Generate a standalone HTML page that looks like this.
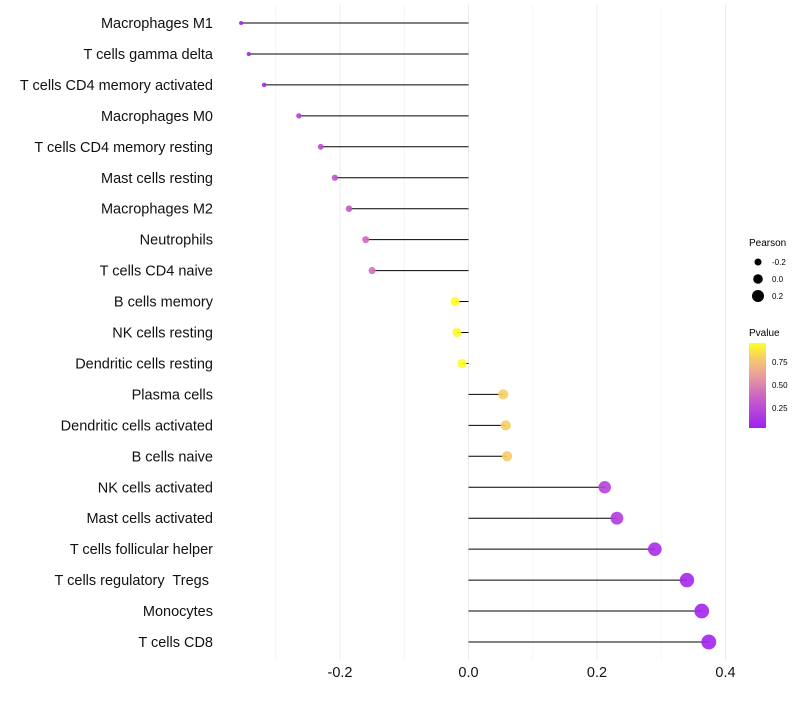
<!DOCTYPE html>
<html><head><meta charset="utf-8"><style>
body{margin:0;background:#fff;font-family:"Liberation Sans",sans-serif}
svg text{font-family:"Liberation Sans",sans-serif;white-space:pre}
</style></head><body>
<svg id="chart" width="800" height="700" xmlns="http://www.w3.org/2000/svg">
<defs><linearGradient id="pg" x1="0" y1="1" x2="0" y2="0">
<stop offset="0" stop-color="#a020f0"/><stop offset="0.35" stop-color="#c860c8"/><stop offset="0.6" stop-color="#e89aa0"/><stop offset="0.8" stop-color="#f6c670"/><stop offset="1" stop-color="#ffff20"/></linearGradient></defs>
<g id="grid"></g>
<g id="marks"></g>
<g id="labels"></g>
<g id="xt"></g>
<g>
<text x="749" y="246" font-size="10" fill="#000">Pearson</text>
<circle cx="758" cy="262" r="3.5" fill="#000"/><text x="772" y="265" font-size="8">-0.2</text>
<circle cx="758" cy="279" r="4.8" fill="#000"/><text x="772" y="282" font-size="8">0.0</text>
<circle cx="758" cy="296" r="6" fill="#000"/><text x="772" y="299" font-size="8">0.2</text>
</g>
<g>
<text x="749" y="336" font-size="10" fill="#000">Pvalue</text>
<rect x="749" y="343" width="17" height="85" fill="url(#pg)"/>
<text x="772" y="365" font-size="8">0.75</text>
<text x="772" y="388" font-size="8">0.50</text>
<text x="772" y="411" font-size="8">0.25</text>
</g>
</svg>
<script>
const categories=["Macrophages M1","T cells gamma delta","T cells CD4 memory activated","Macrophages M0","T cells CD4 memory resting","Mast cells resting","Macrophages M2","Neutrophils","T cells CD4 naive","B cells memory","NK cells resting","Dendritic cells resting","Plasma cells","Dendritic cells activated","B cells naive","NK cells activated","Mast cells activated","T cells follicular helper","T cells regulatory  Tregs ","Monocytes","T cells CD8"];
const correlations=[-0.354,-0.342,-0.318,-0.264,-0.23,-0.208,-0.186,-0.16,-0.15,-0.021,-0.018,-0.01,0.054,0.058,0.06,0.212,0.231,0.29,0.34,0.363,0.374];
const pvalues=[0.05,0.06,0.08,0.2,0.25,0.28,0.32,0.4,0.42,0.95,0.94,0.96,0.8,0.8,0.79,0.2,0.17,0.1,0.07,0.06,0.05];
const xTicks=[-0.2,0,0.2,0.4];
const xMinor=[-0.3,-0.1,0.1,0.3];
const NS="http://www.w3.org/2000/svg";
const x=v=>468.5+v*642.5;
const y=i=>23+i*30.95;
const r=v=>2+(v+0.36)/0.74*5.5;
function col(p){const s=[[0,[160,32,240]],[0.35,[200,96,200]],[0.6,[232,154,160]],[0.8,[246,198,112]],[1,[255,255,32]]];
 const t=Math.max(0,Math.min(1,(p-0.03)/0.93));
 for(let k=1;k<s.length;k++){if(t<=s[k][0]){const a=s[k-1],b=s[k],f=(t-a[0])/(b[0]-a[0]);return 'rgb('+a[1].map((c,j)=>Math.round(c+(b[1][j]-c)*f)).join(',')+')';}}
 return 'rgb(255,255,32)';}
function mk(tag,at,parent){const e=document.createElementNS(NS,tag);for(const k in at)e.setAttribute(k,at[k]);parent.appendChild(e);return e;}
const G=document.getElementById('grid'),M=document.getElementById('marks'),L=document.getElementById('labels'),XT=document.getElementById('xt');
xMinor.forEach(v=>{const l=mk('line',{x1:x(v),x2:x(v),y1:5,y2:660,stroke:'#f3f3f3','stroke-width':0.6},G);

});
xTicks.forEach(v=>{const l=mk('line',{x1:x(v),x2:x(v),y1:5,y2:660,stroke:'#ebebeb','stroke-width':1},G);


const t=mk('text',{x:x(v),y:677,'font-size':14.5,'text-anchor':'middle',fill:'#111'},XT);t.textContent=v===0?'0.0':v.toFixed(1);

});
categories.forEach((c,i)=>{const v=correlations[i];
const ln=mk('line',{x1:x(0),x2:x(v),y1:y(i),y2:y(i),stroke:'#000','stroke-width':1},M);


const d=mk('circle',{cx:x(v),cy:y(i),r:r(v),fill:col(pvalues[i]),'fill-opacity':0.9},M);


const t=mk('text',{x:213,y:y(i)+5,'font-size':14.5,'text-anchor':'end',fill:'#111'},L);t.textContent=c;

});
</script>
</body></html>
